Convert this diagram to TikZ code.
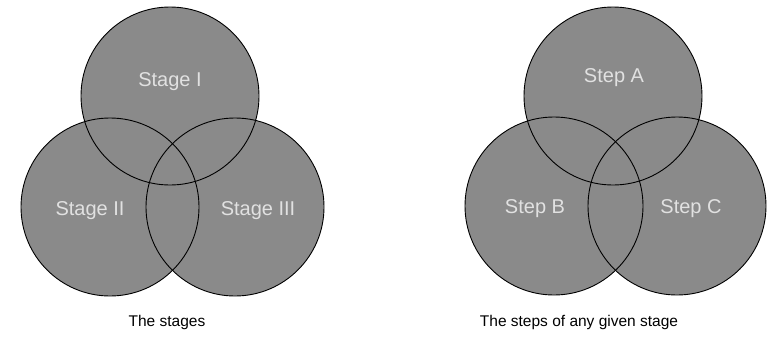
\documentclass[tikz,border=0pt]{standalone}
\usepackage{fontspec}
\setmainfont{Liberation Sans}
\definecolor{dotgray}{RGB}{138,138,138}
\definecolor{labgray}{RGB}{225,225,225}
\begin{document}
\begin{tikzpicture}[x=1pt,y=-1pt,
  disc/.style={circle,minimum size=178pt,inner sep=0pt,fill=dotgray},
  ring/.style={circle,minimum size=178pt,inner sep=0pt,draw=black,line width=0.9pt},
  inlabel/.style={text=labgray,font=\fontsize{20}{22}\selectfont},
  caption/.style={text=black,font=\fontsize{15.5}{17}\selectfont}]
\useasboundingbox (0,0) rectangle (771,343);
% left diagram fills
\node[disc] (s1) at (170,96) {};
\node[disc] (s2) at (110,207) {};
\node[disc] (s3) at (235,207) {};
% right diagram fills
\node[disc] (a) at (613,96) {};
\node[disc] (b) at (554,206) {};
\node[disc] (c) at (677,206) {};
% outlines
\foreach \n in {s1,s2,s3,a,b,c} \node[ring] at (\n) {};
% labels
\node[inlabel] (l1) at (170,82) {Stage I};
\node[inlabel] (l2) at (90,211) {Stage II};
\node[inlabel] (l3) at (258,211) {Stage III};
\node[inlabel] (la) at (614,78) {Step A};
\node[inlabel] (lb) at (535,209) {Step B};
\node[inlabel] (lc) at (691,209) {Step C};
% captions
\node[caption] (cap1) at (167,322) {The stages};
\node[caption] (cap2) at (579,322) {The steps of any given stage};
\end{tikzpicture}
\end{document}
